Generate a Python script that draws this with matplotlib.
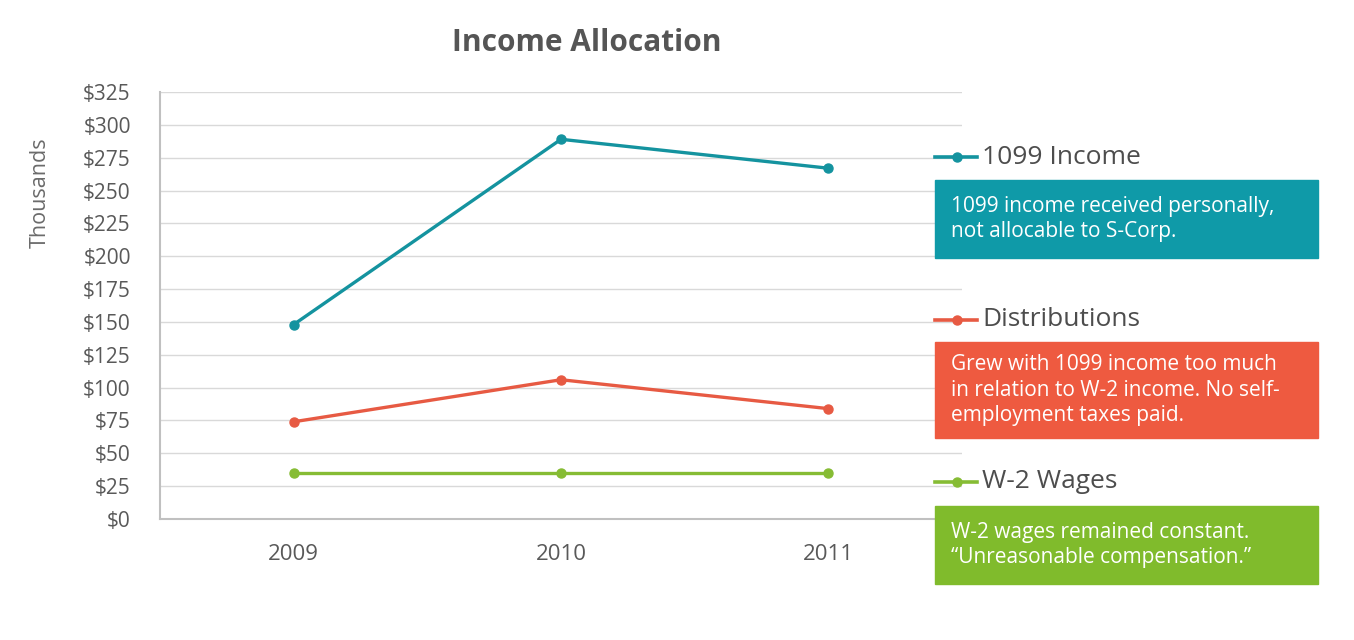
import matplotlib
matplotlib.use("Agg")
import matplotlib.pyplot as plt
from matplotlib.lines import Line2D
from matplotlib.patches import Rectangle

plt.rcParams['font.family'] = ['Open Sans', 'DejaVu Sans']

years = ["2009", "2010", "2011"]
income_1099 = [148, 289, 267]
distributions = [74, 106, 84]
w2_wages = [35, 35, 35]

series_names = ["1099 Income", "Distributions", "W-2 Wages"]
series_colors = ["#14939f", "#e75a43", "#86bc34"]
box_colors = ["#0f9aa8", "#ee5a40", "#80bb2c"]
notes = [
    "1099 income received personally,\nnot allocable to S-Corp.",
    "Grew with 1099 income too much\nin relation to W-2 income. No self-\nemployment taxes paid.",
    "W-2 wages remained constant.\n\u201cUnreasonable compensation.\u201d",
]
yticks = list(range(0, 326, 25))

W, H = 1354, 640
fig = plt.figure(figsize=(W / 100, H / 100), dpi=100)

def fx(x):
    return x / W

def fy(y):
    return 1 - y / H

ax = fig.add_axes([fx(160), fy(519), fx(962) - fx(160), fy(92) - fy(519)])
xs = range(len(years))
for vals, c in zip([income_1099, distributions, w2_wages], series_colors):
    ax.plot(xs, vals, color=c, lw=2.4, marker="o", ms=6.5, zorder=3)

ax.set_xlim(-0.5, 2.5)
ax.set_ylim(0, 325)
ax.set_yticks(yticks)
ax.set_yticklabels(["$%d" % v for v in yticks])
ax.set_xticks(list(xs))
ax.set_xticklabels(years)
ax.tick_params(axis="both", length=0, colors="#595959")
ax.tick_params(axis="y", labelsize=15, pad=21)
ax.tick_params(axis="x", labelsize=16, pad=18)
ax.grid(axis="y", color="#d9d9d9", lw=1)
ax.set_axisbelow(True)
for s in ["top", "right"]:
    ax.spines[s].set_visible(False)
for s in ["left", "bottom"]:
    ax.spines[s].set_color("#c0c0c0")
    ax.spines[s].set_linewidth(1.5)

fig.text(fx(40), fy(193), "Thousands", rotation=90, ha="center", va="center",
         fontsize=15.5, color="#6b6b6b")
fig.text(fx(587), fy(43), "Income Allocation", ha="center", va="center",
         fontsize=21.5, fontweight="bold", color="#555555")

# legend entries with note boxes
legend_y = [157, 320, 482]
box_top = [180, 342, 506]
box_bot = [258, 438, 584]
for i in range(3):
    ly = legend_y[i]
    fig.add_artist(Line2D([fx(935), fx(977)], [fy(ly), fy(ly)], color=series_colors[i],
                          lw=2.6, transform=fig.transFigure))
    fig.add_artist(Line2D([fx(957)], [fy(ly)], color=series_colors[i], marker="o", ms=6.5,
                          transform=fig.transFigure))
    fig.text(fx(982), fy(ly), series_names[i], ha="left", va="center",
             fontsize=19, color="#4d4d4d")
    fig.add_artist(Rectangle((fx(935), fy(box_bot[i])), fx(1318) - fx(935),
                             fy(box_top[i]) - fy(box_bot[i]), color=box_colors[i],
                             transform=fig.transFigure))
    fig.text(fx(951), fy((box_top[i] + box_bot[i]) / 2), notes[i], ha="left", va="center",
             fontsize=15, color="white", linespacing=1.3)

fig.savefig("out.png", dpi=100)
